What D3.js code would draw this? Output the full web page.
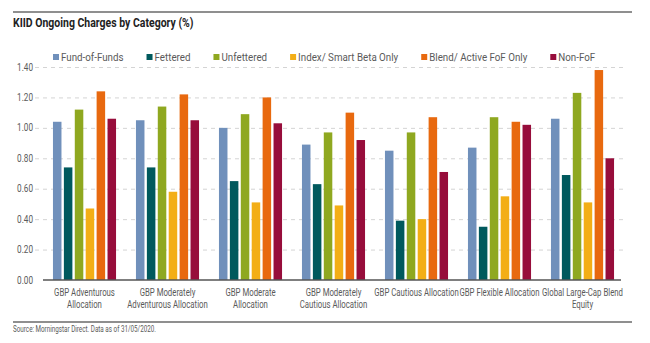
<!DOCTYPE html>
<html>
<head>
<meta charset="utf-8">
<script src="https://cdn.jsdelivr.net/npm/d3@7"></script>
<style>
  body { margin: 0; background: #fff; }
  svg text { font-family: Roboto, "Noto Sans", sans-serif; fill: #5a5a5a; }
  .title { font-weight: bold; fill: #222; font-size: 12.5px; }
  .grid line { stroke: #d4d4d4; stroke-dasharray: 4,4; }
  .grid .domain { display: none; }
</style>
</head>
<body>
<div id="chart"></div>
<script>
var categories = [
  ["GBP Adventurous", "Allocation"],
  ["GBP Moderately", "Adventurous Allocation"],
  ["GBP Moderate", "Allocation"],
  ["GBP Moderately", "Cautious Allocation"],
  ["GBP Cautious Allocation"],
  ["GBP Flexible Allocation"],
  ["Global Large-Cap Blend", "Equity"]
];
var seriesNames = ["Fund-of-Funds", "Fettered", "Unfettered", "Index/ Smart Beta Only", "Blend/ Active FoF Only", "Non-FoF"];
var colors = ["#7090bb", "#00595d", "#8fa820", "#f3ae16", "#e8690f", "#970d3b"];

var fundOfFunds = [1.04, 1.05, 1.00, 0.89, 0.85, 0.87, 1.06];
var fettered    = [0.74, 0.74, 0.65, 0.63, 0.39, 0.35, 0.69];
var unfettered  = [1.12, 1.14, 1.09, 0.97, 0.97, 1.07, 1.23];
var indexSmart  = [0.47, 0.58, 0.51, 0.49, 0.40, 0.55, 0.51];
var blendActive = [1.24, 1.22, 1.20, 1.10, 1.07, 1.04, 1.38];
var nonFoF      = [1.06, 1.05, 1.03, 0.92, 0.71, 1.02, 0.80];
var series = [fundOfFunds, fettered, unfettered, indexSmart, blendActive, nonFoF];

var yTicks = [0, 0.2, 0.4, 0.6, 0.8, 1.0, 1.2, 1.4];

var W = 650, H = 343;
var margin = { top: 67, right: 26, bottom: 63, left: 43 },
  width = W - margin.left - margin.right,
  height = H - margin.top - margin.bottom;

// the reference uses a condensed face, so squeeze text horizontally
function squeeze(sel, x, y, sx) {
  return sel.attr("x", 0).attr("y", 0)
    .attr("transform", "translate(" + x + "," + y + ") scale(" + sx + ",1)");
}

var svg = d3.select("#chart").append("svg")
  .attr("width", W)
  .attr("height", H);

// top rule + title
svg.append("line")
  .attr("x1", 13).attr("x2", 632).attr("y1", 12).attr("y2", 12)
  .attr("stroke", "#6a6a6a").attr("stroke-width", 1.5);
squeeze(svg.append("text").attr("class", "title"), 13, 27, 0.84)
  .text("KIID Ongoing Charges by Category (%)");

var x0 = d3.scaleBand()
  .domain(d3.range(categories.length))
  .range([0, width])
  .paddingInner(0.24)
  .paddingOuter(0.12);
var x1 = d3.scaleBand()
  .domain(d3.range(seriesNames.length))
  .range([0, x0.bandwidth()])
  .paddingInner(0.22);
var y = d3.scaleLinear()
  .domain([0, 1.4])
  .range([height, 0]);

var g = svg.append("g")
  .attr("transform", "translate(" + margin.left + "," + margin.top + ")");

// dashed grid
g.append("g")
  .attr("class", "grid")
  .call(d3.axisLeft(y).tickValues(yTicks.slice(1)).tickSize(-width).tickFormat(""))
  .selectAll(".tick line").attr("x1", -8);

// y labels
g.append("g")
  .selectAll("text")
  .data(yTicks).enter()
  .append("text")
  .attr("dy", "0.35em")
  .attr("text-anchor", "end")
  .style("font-size", "10px")
  .each(function(d) { squeeze(d3.select(this), -10, y(d), 0.82); })
  .text(function(d) { return d3.format(".2f")(d); });

// bars
var groups = g.selectAll(".group")
  .data(categories).enter()
  .append("g")
  .attr("transform", function(d, i) { return "translate(" + x0(i) + ",0)"; });

groups.selectAll("rect")
  .data(function(d, i) { return series.map(function(s, j) { return { s: j, v: s[i] }; }); })
  .enter().append("rect")
  .attr("x", function(d) { return x1(d.s); })
  .attr("width", x1.bandwidth())
  .attr("y", function(d) { return y(d.v); })
  .attr("height", function(d) { return height - y(d.v); })
  .attr("fill", function(d) { return colors[d.s]; });

// baseline
g.append("line")
  .attr("x1", 0).attr("x2", width - 3)
  .attr("y1", height).attr("y2", height)
  .attr("stroke", "#555").attr("stroke-width", 1.5);

// category labels
groups.each(function(d) {
  var t = d3.select(this).append("text")
    .attr("text-anchor", "middle")
    .style("font-size", "10px");
  squeeze(t, x0.bandwidth() / 2, height + 16, 0.78);
  d.forEach(function(line, k) {
    t.append("tspan")
      .attr("x", 0)
      .attr("dy", k === 0 ? 0 : 12)
      .text(line);
  });
});

// legend
var legend = svg.append("g").attr("transform", "translate(53,57)");
var lx = 0;
seriesNames.forEach(function(name, i) {
  var item = legend.append("g").attr("transform", "translate(" + lx + ",0)");
  item.append("rect")
    .attr("x", 0).attr("y", -3)
    .attr("width", 6).attr("height", 6)
    .attr("fill", colors[i]);
  var t = item.append("text")
    .attr("dy", "0.35em")
    .style("font-size", "11.5px")
    .text(name);
  squeeze(t, 8, 0, 0.85);
  lx += 8 + t.node().getComputedTextLength() * 0.85 + 23;
});

// bottom rule + source
svg.append("line")
  .attr("x1", 13).attr("x2", 632).attr("y1", 322).attr("y2", 322)
  .attr("stroke", "#6a6a6a").attr("stroke-width", 1.5);
squeeze(svg.append("text").style("font-size", "8.5px"), 13, 332, 0.74)
  .text("Source: Morningstar Direct. Data as of 31/05/2020.");
</script>
</body>
</html>
